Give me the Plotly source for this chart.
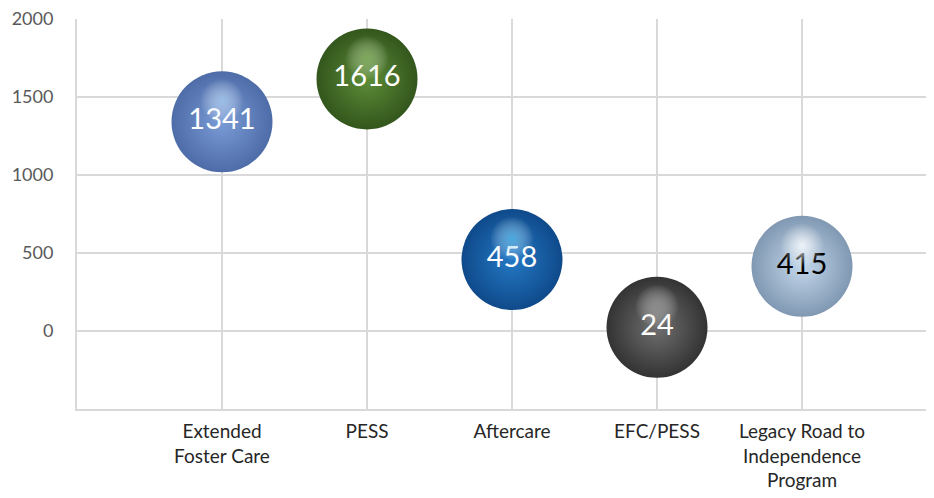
import plotly.graph_objects as go

categories = ["Extended<br>Foster Care", "PESS", "Aftercare", "EFC/PESS",
              "Legacy Road to<br>Independence<br>Program"]
x_pos = [1, 2, 3, 4, 5]
values = [1341, 1616, 458, 24, 415]
labels = ["1341", "1616", "458", "24", "415"]

edge_colors = ["#4E6CA8", "#33561C", "#0F4A8A", "#333333", "#8098B2"]
center_colors = ["#7A9CD6", "#5D8D38", "#2479C6", "#707070", "#C4D8EB"]
highlight_colors = ["rgba(175,212,245,0.7)", "rgba(150,195,110,0.65)",
                    "rgba(85,190,240,0.75)", "rgba(165,165,165,0.65)",
                    "rgba(250,253,255,0.85)"]
text_colors = ["white", "white", "white", "white", "black"]

fig = go.Figure()

# base spheres
fig.add_trace(go.Scatter(
    x=x_pos, y=values, mode="markers",
    marker=dict(size=101, color=edge_colors, line=dict(width=0),
                gradient=dict(type="radial", color=center_colors)),
    hoverinfo="skip", showlegend=False))

# highlight (drawn on a shifted overlay axis so it sits above centre)
fig.add_trace(go.Scatter(
    x=x_pos, y=values, mode="markers", yaxis="y2",
    marker=dict(size=44, color="rgba(255,255,255,0)", line=dict(width=0),
                gradient=dict(type="radial", color=highlight_colors)),
    hoverinfo="skip", showlegend=False))

# value labels
fig.add_trace(go.Scatter(
    x=x_pos, y=values, mode="text", text=labels,
    textposition="middle center",
    textfont=dict(family="Lato", size=29, color=text_colors),
    hoverinfo="skip", showlegend=False))

grid = "#D9D9D9"
fig.update_layout(
    width=926, height=490,
    margin=dict(l=69, r=0, t=11, b=89),
    paper_bgcolor="white", plot_bgcolor="white",
    showlegend=False,
    xaxis=dict(range=[0, 857 / 145], tickvals=[0] + x_pos,
               ticktext=[""] + categories, automargin=False,
               showgrid=True, gridcolor=grid, gridwidth=2,
               zeroline=False, showline=True, linecolor=grid, linewidth=2,
               ticks="outside", ticklen=4, tickcolor="rgba(0,0,0,0)",
               tickfont=dict(family="Lato", size=19, color="#262626")),
    yaxis=dict(range=[-500, 2000], tickvals=[0, 500, 1000, 1500, 2000],
               automargin=False, ticklabeloverflow="allow",
               showgrid=True, gridcolor=grid, gridwidth=2,
               zeroline=True, zerolinecolor=grid, zerolinewidth=2,
               showline=True, linecolor=grid, linewidth=2,
               ticks="outside", ticklen=18, tickcolor="rgba(0,0,0,0)",
               tickfont=dict(family="Lato", size=18, color="#595959")),
    yaxis2=dict(range=[-500 - 135, 2000 - 135], overlaying="y",
                visible=False),
)

fig.write_html("out.html")
